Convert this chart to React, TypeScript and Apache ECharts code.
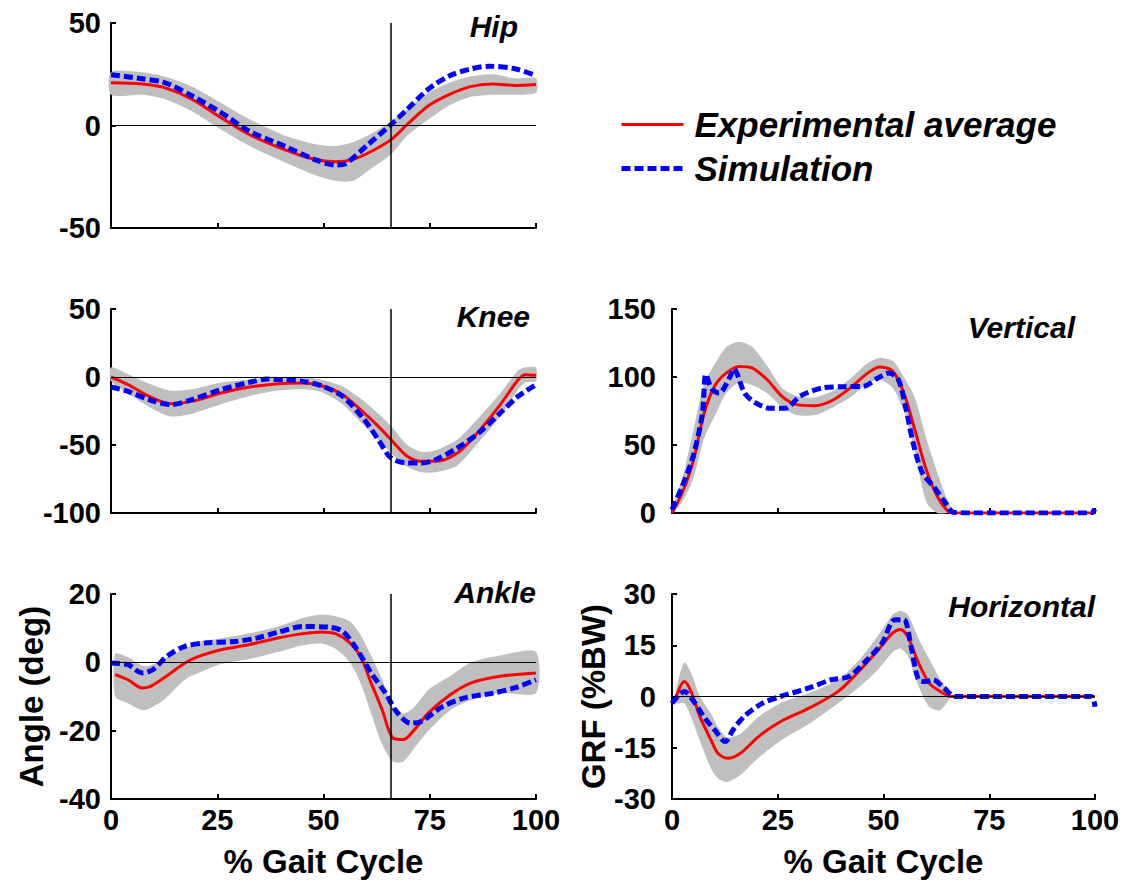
import React, { useEffect, useRef } from "react";
import * as echarts from "echarts";

const FONT = '"Liberation Sans", Arial, Helvetica, sans-serif';

// ---------- x ticks ----------
const xTicks = [0, 25, 50, 75, 100];
const toeOff = 65.8;

// ---------- Hip ----------
const hipExpX = [0, 7.3, 12.4, 19, 25.9, 32.6, 41, 47.8, 52.8, 57, 61.2, 65.9, 69.7, 74.7, 79.8, 84.8, 89.9, 95, 100];
const hipExpY = [20.8, 20.3, 18.6, 12.9, 3.8, -4.5, -11.9, -16.5, -17.7, -16.5, -12.7, -6.9, 0.5, 9.6, 15.3, 19.1, 20.3, 19.5, 20];
const hipBandLow = [15, 15, 13, 7, -2, -10, -18, -24, -27, -27, -21, -14, -5, 3, 10, 14, 15, 15, 16];
const hipBandHigh = [26, 26, 24, 19, 11, 3, -5, -9, -10, -8, -4, 2, 8, 16, 21, 24, 25, 23, 23];
const hipSimX = [0, 7.3, 12.4, 19, 25.9, 32.6, 41, 47.8, 52.8, 55.3, 60.4, 65.5, 69.7, 74.7, 79.8, 84.8, 89, 95, 100];
const hipSimY = [24.8, 22.8, 21.1, 14.5, 6.3, -2.8, -10.2, -16.5, -19.3, -18.5, -9.4, -0.3, 7.9, 17.8, 24.4, 27.7, 28.9, 27.7, 24.4];

// ---------- Knee ----------
const kneeExpX = [0, 4, 9, 14, 19, 25.9, 32.6, 39.3, 45.2, 49.5, 54.5, 59.6, 62.9, 65.9, 69.7, 73, 76.4, 81.5, 86.5, 91.6, 95.8, 97.5, 100];
const kneeExpY = [0, -5.6, -14.2, -19.6, -17.9, -11.8, -7.4, -4.9, -4.4, -6.4, -13, -26.5, -36.3, -46.1, -58.3, -62, -62, -55.9, -40, -20.3, -2, 1.7, 1.2];
const kneeBandLow = [-3, -12, -22, -29, -27, -20, -14, -10, -9, -11, -20, -36, -46, -56, -66, -70, -70, -65, -48, -29, -9, -4, -3];
const kneeBandHigh = [7, 2, -5, -10, -9, -4, -2, 0, 0, -2, -7, -18, -27, -36, -50, -55, -54, -46, -30, -12, 5, 7, 7];
const kneeSimX = [0, 4, 9, 14, 19, 25.9, 32.6, 36.8, 41, 45.2, 49.5, 54.5, 59.6, 62.9, 65.9, 69.7, 73, 76.4, 81.5, 86.5, 91.6, 95.8, 100];
const kneeSimY = [-7.4, -10.5, -16.7, -20.3, -16.7, -9.3, -3.9, -1.5, -2, -3.2, -6.4, -14.2, -31.4, -46.1, -59.6, -63.2, -63.2, -60.8, -52.2, -41.2, -26.5, -14.2, -5.6];

// ---------- Ankle ----------
const ankleExpX = [1, 4, 7.3, 9, 12.4, 17.4, 20.8, 25.9, 32.6, 39.3, 45.2, 49.5, 52.8, 56.2, 58.7, 61.2, 63.8, 66.3, 68.8, 71.4, 74.7, 79.8, 84.8, 91.6, 100];
const ankleExpY = [-3.6, -5.1, -7.5, -7.2, -4.6, -0.2, 1.8, 3.7, 5.2, 7.1, 8.4, 8.9, 8.4, 5.7, 1.8, -6, -13.9, -22.1, -22.6, -19.7, -14.8, -9.5, -6, -4.1, -3.1];
const ankleBandLow = [-10, -12, -14, -13.5, -11, -5, -3, -0.5, 1, 3, 5, 5.5, 4, 0, -6, -15, -24, -29, -29, -25, -20, -14, -11, -9, -9];
const ankleBandHigh = [2.5, 1.5, -1, -1, 1, 4, 6, 7, 8.5, 10.5, 13, 14, 13.5, 12, 8, 2, -5, -13, -15, -13, -8, -4, 0, 2, 3];
const ankleSimX = [0, 4, 7.3, 9.9, 13.2, 17.4, 22.5, 29.2, 34.3, 39.3, 45.2, 51.1, 54.5, 57.9, 61.2, 64.6, 67.1, 70.5, 73, 78.1, 83.2, 89.9, 94.9, 100];
const ankleSimY = [-0.2, -0.7, -3.1, -2.1, 1.8, 4.7, 5.7, 6.1, 7.1, 8.8, 10.5, 10.3, 9.1, 3.7, -3.1, -9, -14.3, -17.8, -17.3, -12.9, -10.4, -9, -7.5, -5.1];

// ---------- Vertical GRF ----------
const vertExpX = [0, 2.4, 5, 7.6, 10.2, 12.8, 15.9, 19, 22.5, 26, 29.5, 33.8, 38.2, 42.6, 46.1, 49.1, 52.2, 54.8, 57.4, 60.1, 62.7, 65.3, 67, 75, 100];
const vertExpY = [0, 14.7, 38, 73.5, 93.9, 102.9, 107.8, 106.6, 98, 85.8, 79.7, 78.9, 83.3, 93.1, 102.5, 107.4, 104.2, 88.2, 61.3, 31.9, 12.3, 1.2, 0, 0, 0];
const vertBandX = [0, 2.4, 5, 7.6, 10.2, 12.8, 15.9, 19, 22.5, 26, 29.5, 33.8, 38.2, 42.6, 46.1, 49.1, 52.2, 54.8, 57.4, 60.1, 62.7, 65.3, 67];
const vertBandLow = [0, 8, 25, 55, 72, 88, 96, 94, 88, 78, 72, 72, 78, 86, 95, 98, 92, 75, 45, 8, 0, 0, 0];
const vertBandHigh = [3, 25, 60, 95, 110, 122, 126, 122, 108, 92, 86, 85, 90, 100, 110, 114, 112, 100, 85, 55, 30, 8, 0];
const vertSimX = [0, 2.4, 5, 7.2, 8, 9.4, 11.1, 13.7, 14.6, 17.2, 19.8, 23.3, 26.8, 30.3, 35.6, 40.8, 45.2, 48.7, 51.3, 53.5, 55.2, 57, 59.2, 61.8, 64.4, 66.6, 75, 99, 100];
const vertSimY = [2.5, 19.6, 41.7, 73.5, 102, 91.2, 88.2, 100, 106, 88, 81, 77, 77, 86, 92, 92.9, 93.1, 99.3, 103, 98, 78.4, 51.5, 29.4, 19.6, 8.6, 0.5, 0, 0, 3];

// ---------- Horizontal GRF ----------
const horzExpX = [1, 2.9, 4.5, 6.6, 9.2, 10.9, 13.1, 16.1, 20.4, 25.6, 32.4, 39.3, 44.5, 48.8, 52.2, 54, 55.7, 58.3, 60.8, 63.4, 66, 75, 100];
const horzExpY = [0, 4.4, 1.5, -5.9, -12.7, -16.7, -18.1, -16.7, -11.8, -7.4, -3.4, 1.5, 7.8, 13.7, 18.6, 19.6, 17.6, 9.8, 3.9, 1.5, 0, 0, 0];
const horzBandX = [1, 2.9, 4.5, 6.6, 9.2, 10.9, 13.1, 16.1, 20.4, 25.6, 32.4, 39.3, 44.5, 48.8, 52.2, 54, 55.7, 58.3, 60.8, 63.4, 66];
const horzBandLow = [-2, -2, -6, -13, -21, -24, -25, -23, -18, -13, -8, -2, 3, 8, 13, 14, 12, 3, -3, -4, 0];
const horzBandHigh = [2, 10, 7, 0, -5, -9, -12, -11, -6, -2, 1, 5, 11, 18, 24, 25, 24, 17, 11, 5, 0];
const horzSimX = [0, 2.9, 4.9, 7.5, 10.1, 12.6, 14.4, 17, 21.3, 25.6, 32.4, 37.6, 41.9, 46.2, 49.7, 52.7, 54.8, 56.5, 58.3, 60, 61.7, 64.3, 66.9, 75, 99, 100];
const horzSimY = [-2, 1.5, -1, -5.9, -9.8, -13.2, -9.8, -5.9, -2, 0, 2.5, 4.9, 5.9, 10.8, 15.7, 22.5, 22.5, 14.7, 4.9, 4.4, 4.9, 2.5, 0, 0, 0, -3];

const EXP_NAME = "Experimental average";
const SIM_NAME = "Simulation";

const pairs = (xs: number[], ys: number[]) => xs.map((x, i) => [x, ys[i]]);

type Panel = {
  title: string;
  grid: { left: number; top: number; width: number; height: number };
  titlePos: { right: number; top: number };
  yMin: number;
  yMax: number;
  yInt: number;
  labelMargin: number;
  xLabels: boolean;
  zero: boolean;
  toe: boolean;
  yName?: string;
  yNameGap?: number;
  expX: number[];
  expY: number[];
  bandX: number[];
  bandLow: number[];
  bandHigh: number[];
  simX: number[];
  simY: number[];
};

const panels: Panel[] = [
  {
    title: "Hip", grid: { left: 111, top: 23, width: 425, height: 205 }, titlePos: { right: 615, top: 11 },
    yMin: -50, yMax: 50, yInt: 50, labelMargin: 10, xLabels: false, zero: true, toe: true,
    expX: hipExpX, expY: hipExpY, bandX: hipExpX, bandLow: hipBandLow, bandHigh: hipBandHigh, simX: hipSimX, simY: hipSimY,
  },
  {
    title: "Knee", grid: { left: 111, top: 309, width: 425, height: 204 }, titlePos: { right: 603, top: 301 },
    yMin: -100, yMax: 50, yInt: 50, labelMargin: 10, xLabels: false, zero: true, toe: true,
    expX: kneeExpX, expY: kneeExpY, bandX: kneeExpX, bandLow: kneeBandLow, bandHigh: kneeBandHigh, simX: kneeSimX, simY: kneeSimY,
  },
  {
    title: "Ankle", grid: { left: 111, top: 594, width: 425, height: 205 }, titlePos: { right: 597, top: 577 },
    yMin: -40, yMax: 20, yInt: 20, labelMargin: 10, xLabels: true, zero: true, toe: true,
    yName: "Angle (deg)", yNameGap: 63,
    expX: ankleExpX, expY: ankleExpY, bandX: ankleExpX, bandLow: ankleBandLow, bandHigh: ankleBandHigh, simX: ankleSimX, simY: ankleSimY,
  },
  {
    title: "Vertical", grid: { left: 672, top: 309, width: 423, height: 204 }, titlePos: { right: 58, top: 312 },
    yMin: 0, yMax: 150, yInt: 50, labelMargin: 16, xLabels: false, zero: false, toe: false,
    expX: vertExpX, expY: vertExpY, bandX: vertBandX, bandLow: vertBandLow, bandHigh: vertBandHigh, simX: vertSimX, simY: vertSimY,
  },
  {
    title: "Horizontal", grid: { left: 672, top: 594, width: 423, height: 205 }, titlePos: { right: 38, top: 591 },
    yMin: -30, yMax: 30, yInt: 15, labelMargin: 16, xLabels: true, zero: true, toe: false,
    yName: "GRF (%BW)", yNameGap: 54,
    expX: horzExpX, expY: horzExpY, bandX: horzBandX, bandLow: horzBandLow, bandHigh: horzBandHigh, simX: horzSimX, simY: horzSimY,
  },
];

const axisLabelStyle = { color: "#000", fontFamily: FONT, fontWeight: "bold" as const, fontSize: 29 };

export default function App() {
  const ref = useRef<HTMLDivElement>(null);
  useEffect(() => {
    if (!ref.current) return;
    const chart = echarts.init(ref.current, null, { renderer: "svg" });

    const grids = panels.map((p) => ({ ...p.grid, containLabel: false }));
    const xAxes = panels.map((p, i) => ({
      type: "value",
      gridIndex: i,
      min: xTicks[0],
      max: xTicks[xTicks.length - 1],
      interval: 25,
      name: p.xLabels ? "% Gait Cycle" : "",
      nameLocation: "middle",
      nameGap: 46,
      nameTextStyle: { color: "#000", fontFamily: FONT, fontWeight: "bold", fontSize: 33 },
      axisLine: { show: true, onZero: false, lineStyle: { color: "#000", width: 2 } },
      axisTick: { show: true, inside: true, length: 5, lineStyle: { color: "#000", width: 2 } },
      axisLabel: { show: p.xLabels, margin: 6, ...axisLabelStyle },
      splitLine: { show: false },
    }));
    const yAxes = panels.map((p, i) => ({
      type: "value",
      gridIndex: i,
      min: p.yMin,
      max: p.yMax,
      interval: p.yInt,
      name: p.yName || "",
      nameLocation: "middle",
      nameRotate: 90,
      nameGap: p.yNameGap || 0,
      nameTextStyle: { color: "#000", fontFamily: FONT, fontWeight: "bold", fontSize: 33 },
      axisLine: { show: true, onZero: false, lineStyle: { color: "#000", width: 2 } },
      axisTick: { show: true, inside: true, length: 5, lineStyle: { color: "#000", width: 2 } },
      axisLabel: { show: true, margin: p.labelMargin, ...axisLabelStyle },
      splitLine: { show: false },
    }));

    const series: any[] = [];
    panels.forEach((p, i) => {
      series.push({
        type: "custom",
        name: "band",
        xAxisIndex: i,
        yAxisIndex: i,
        silent: true,
        z: 1,
        data: [[p.bandX[0], p.bandLow[0]]],
        renderItem: (_params: any, api: any) => {
          const top = p.bandX.map((x, k) => api.coord([x, p.bandHigh[k]]));
          const bot = p.bandX.map((x, k) => api.coord([x, p.bandLow[k]])).reverse();
          return {
            type: "polygon",
            shape: { points: top.concat(bot), smooth: 0.25 },
            style: { fill: "#bfbfbf", stroke: "none" },
          };
        },
      });
      const markData: any[] = [];
      if (p.zero) markData.push({ yAxis: 0, lineStyle: { width: 1.2 } });
      if (p.toe) markData.push({ xAxis: toeOff, lineStyle: { width: 1.5 } });
      series.push({
        type: "line",
        name: "marks",
        xAxisIndex: i,
        yAxisIndex: i,
        data: [],
        z: 2,
        markLine: {
          silent: true,
          symbol: ["none", "none"],
          label: { show: false },
          lineStyle: { color: "#000", type: "solid" },
          data: markData,
        },
      });
      series.push({
        type: "line",
        name: EXP_NAME,
        xAxisIndex: i,
        yAxisIndex: i,
        data: pairs(p.expX, p.expY),
        smooth: 0.3,
        symbol: "none",
        z: 3,
        lineStyle: { color: "#ff0000", width: 3 },
        itemStyle: { color: "#ff0000" },
      });
      series.push({
        type: "line",
        name: SIM_NAME,
        xAxisIndex: i,
        yAxisIndex: i,
        data: pairs(p.simX, p.simY),
        smooth: 0.3,
        symbol: "none",
        z: 4,
        lineStyle: { color: "#0000ff", width: 5, type: [9, 4] },
        itemStyle: { color: "#0000ff" },
      });
    });

    const titles = panels.map((p) => ({
      text: p.title,
      right: p.titlePos.right,
      top: p.titlePos.top,
      padding: 0,
      textStyle: { color: "#000", fontFamily: FONT, fontWeight: "bold", fontStyle: "italic", fontSize: 30 },
    }));

    chart.setOption({
      animation: false,
      backgroundColor: "#fff",
      title: titles,
      grid: grids,
      xAxis: xAxes,
      yAxis: yAxes,
      legend: {
        orient: "vertical",
        left: 619,
        top: 107,
        itemWidth: 62,
        itemHeight: 14,
        itemGap: 9,
        padding: 0,
        selectedMode: false,
        itemStyle: { opacity: 0 },
        data: [
          { name: EXP_NAME, lineStyle: { width: 3 }, itemStyle: { opacity: 0 } },
          { name: SIM_NAME, lineStyle: { width: 5 }, itemStyle: { opacity: 0 } },
        ],
        textStyle: {
          color: "#000",
          fontFamily: FONT,
          fontWeight: "bold",
          fontStyle: "italic",
          fontSize: 35,
          padding: [0, 0, 0, 6],
        },
      },
      series,
    });
    return () => chart.dispose();
  }, []);
  return (
    <div
      ref={ref}
      style={{ position: "absolute", left: 0, top: 0, width: 1133, height: 886, background: "#fff" }}
    />
  );
}
